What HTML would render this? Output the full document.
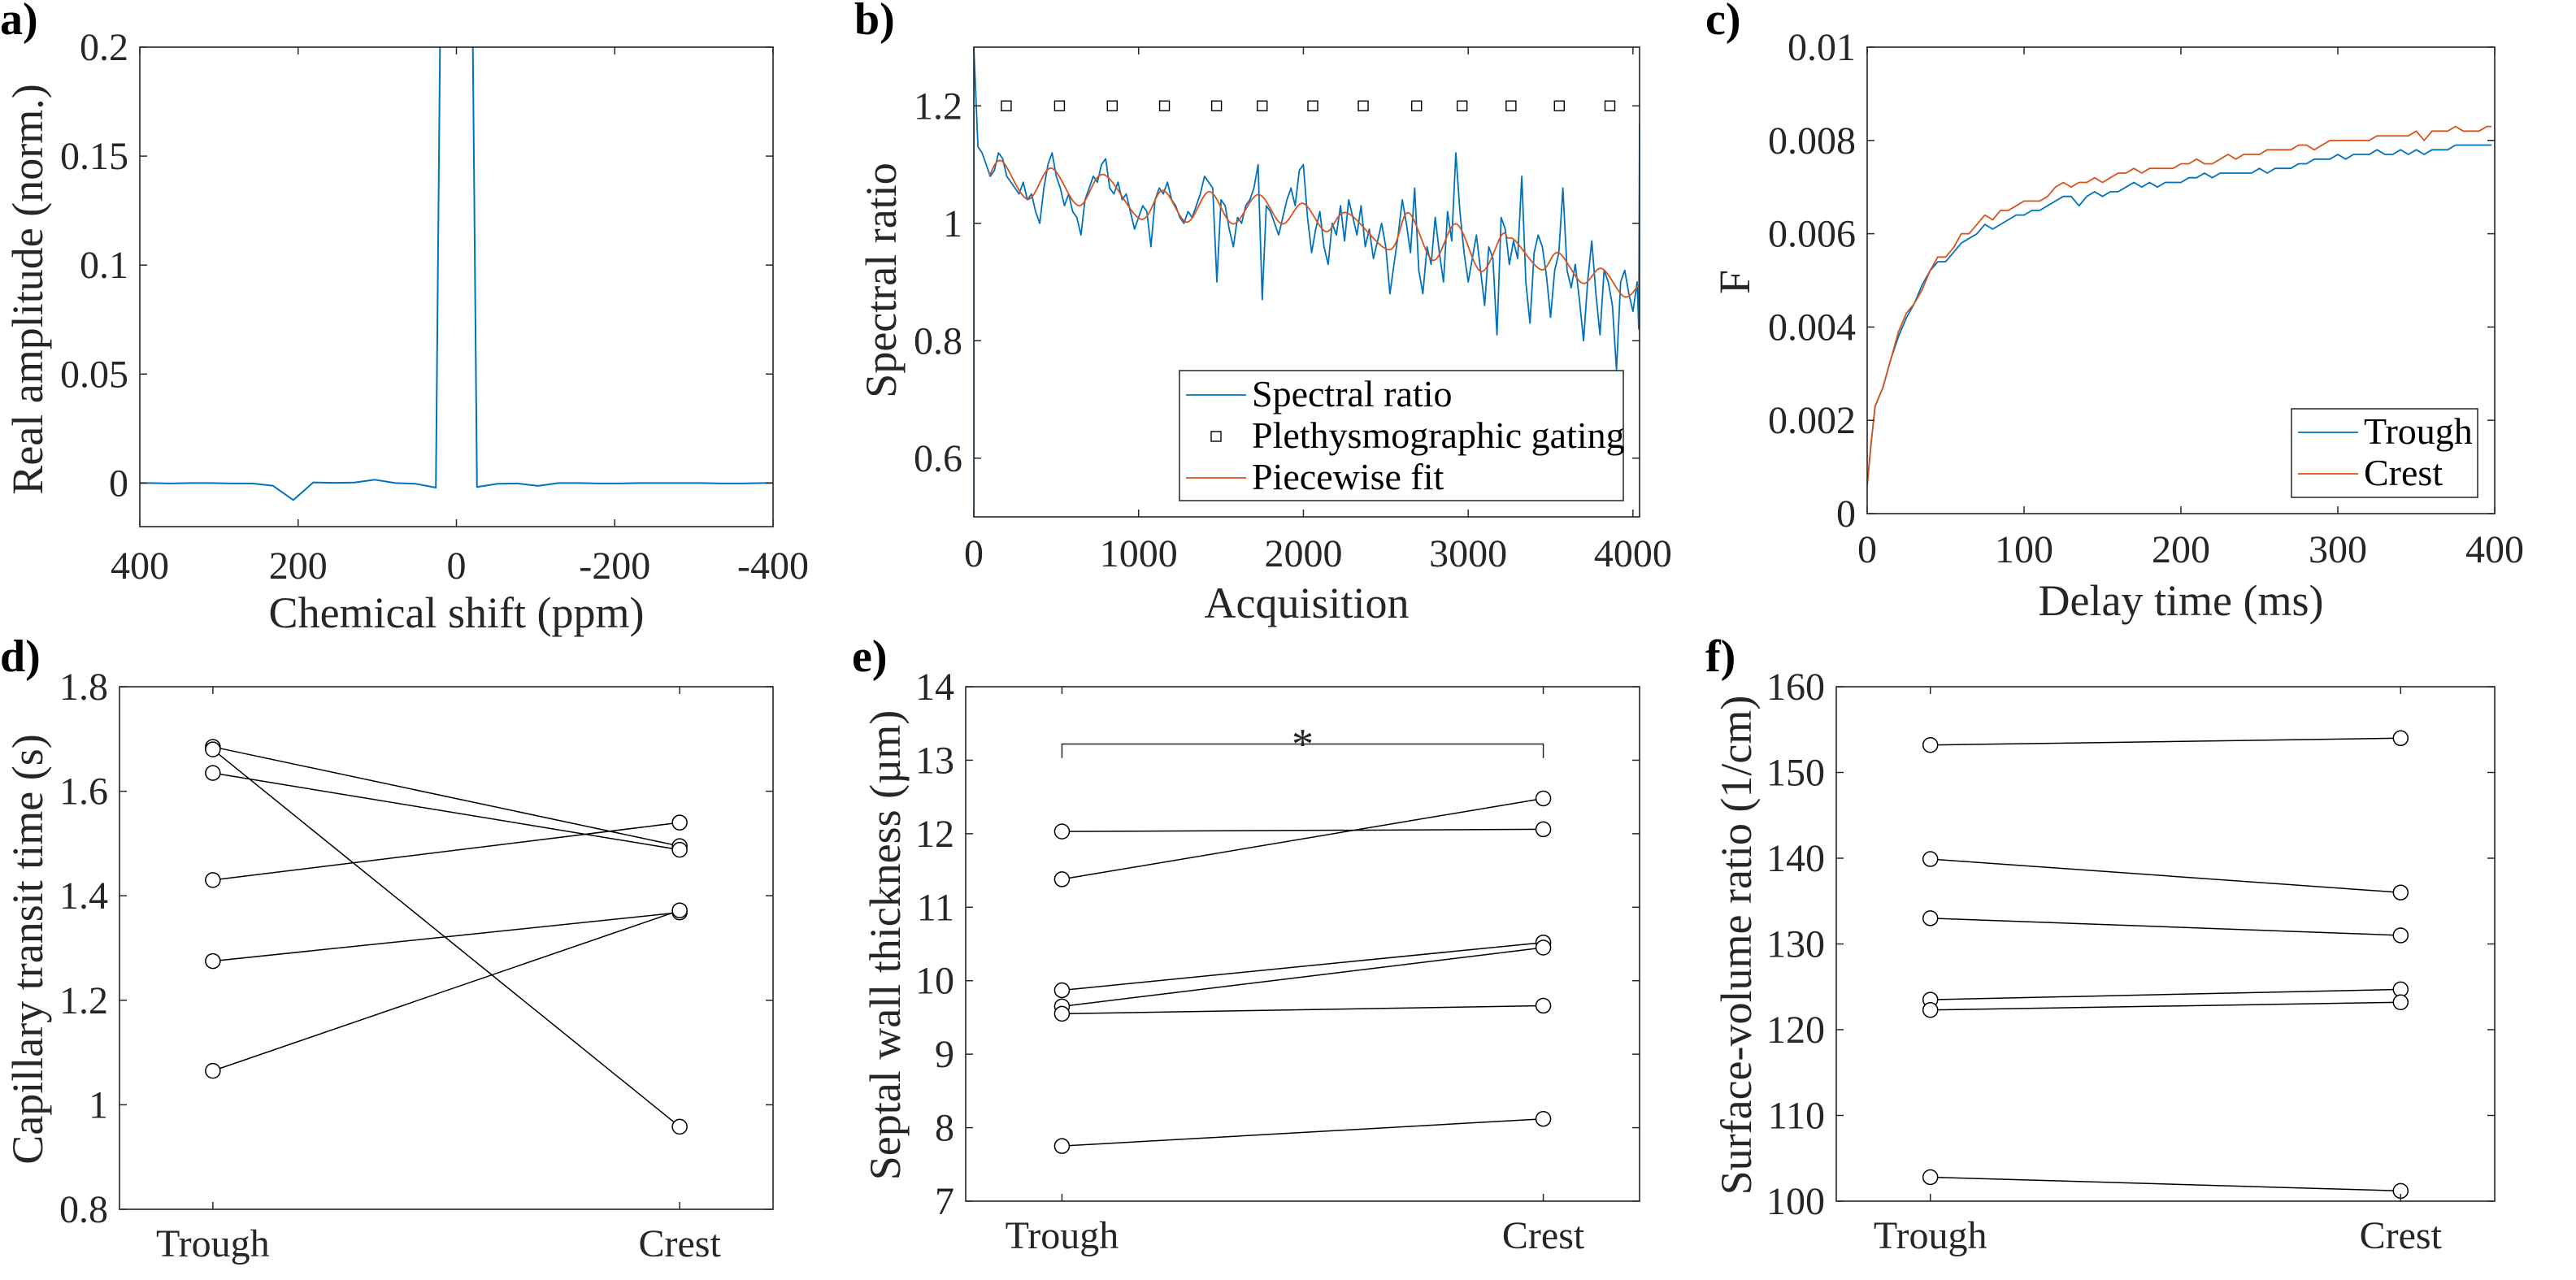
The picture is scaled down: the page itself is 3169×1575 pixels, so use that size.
<!DOCTYPE html>
<html><head><meta charset="utf-8"><style>
html,body{margin:0;padding:0;background:#fff}
svg{display:block}
text{font-family:"Liberation Serif","DejaVu Serif",serif;fill:#262626}
</style></head><body>
<svg id="fig" xmlns="http://www.w3.org/2000/svg" width="3169" height="1575" viewBox="0 0 3169 1575"></svg>
<script>
// ---------- Panel a data ----------
const shiftPpm = [413,387,361,335,310,284,258,232,206,181,155,129,103,77,52,26,0,-26,-52,-77,-103,-129,-155,-181,-206,-232,-258,-284,-310,-335,-361,-387,-413];
const amplitude = [0,0,-0.0002,0,0,-0.0002,-0.0002,-0.0012,-0.0078,0.0003,0.0001,0.0002,0.0015,0,-0.0003,-0.0021,1,-0.0018,-0.0003,-0.0002,-0.0013,0,0,-0.0002,-0.0002,0,0,0,0,-0.0002,-0.0002,0,0.0001];
const aXTicks = [400,200,0,-200,-400];
const aXTickLabels = ["400","200","0","-200","-400"];
const aYTicks = [0,0.05,0.1,0.15,0.2];
const aYTickLabels = ["0","0.05","0.1","0.15","0.2"];
// ---------- Panel b data ----------
const ratioStep = 25;
const ratioHeadAcq = [0];
const ratioHeadVal = [0.5];
const spectralRatio = [1.30,1.13,1.12,1.10,1.08,1.09,1.12,1.11,1.08,1.07,1.06,1.05,1.07,1.04,1.05,1.02,1.00,1.06,1.10,1.12,1.08,1.06,1.03,1.05,1.02,1.01,0.98,1.04,1.06,1.08,1.07,1.10,1.11,1.06,1.05,1.07,1.04,1.05,1.02,0.99,1.01,1.03,1.02,0.96,1.04,1.06,1.05,1.07,1.04,1.03,1.01,1.00,1.02,1.01,1.03,1.05,1.08,1.07,1.06,0.90,1.04,1.03,0.99,0.96,1.01,1.00,1.03,1.04,1.06,1.10,0.87,1.03,1.02,1.00,0.98,1.01,1.04,1.06,1.03,1.09,1.10,1.01,0.95,0.99,1.02,0.96,0.93,1.00,0.98,1.03,0.97,1.04,1.01,0.98,1.03,0.96,0.99,0.94,0.97,1.00,0.96,0.88,0.93,0.98,1.04,1.00,0.95,1.06,0.92,0.88,0.96,0.93,1.01,0.95,0.90,1.02,0.97,1.12,1.02,0.95,0.90,0.94,0.98,0.92,0.86,0.96,0.94,0.81,1.01,0.99,0.93,0.97,0.94,1.08,0.90,0.83,0.95,0.98,0.96,0.91,0.84,0.92,0.95,1.06,0.92,0.89,0.93,0.87,0.80,0.90,0.97,0.88,0.81,0.92,0.90,0.86,0.75,0.90,0.92,0.88,0.85,0.90];
const ratioTailAcq = [4035,4040,4045];
const ratioTailVal = [0.82,1.17,0.72];
const fitAcq = [93,170,327,470,637,787,1013,1147,1293,1430,1573,1727,1870,1997,2137,2263,2520,2637,2787,2927,3077,3203,3240,3287,3443,3547,3693,3810,3947,4040];
const fitVal = [1.08,1.106,1.041,1.094,1.03,1.083,1.007,1.056,1.002,1.054,0.999,1.049,0.999,1.034,0.986,1.018,0.955,1.018,0.937,0.999,0.918,0.98,0.975,0.97,0.921,0.95,0.898,0.923,0.875,0.897];
const gatingAcq = [197,520,840,1157,1473,1750,2057,2363,2687,2963,3260,3553,3860];
const gatingVal = [1.2,1.2,1.2,1.2,1.2,1.2,1.2,1.2,1.2,1.2,1.2,1.2,1.2];
const bXTicks = [0,1000,2000,3000,4000];
const bXTickLabels = ["0","1000","2000","3000","4000"];
const bYTicks = [0.6,0.8,1,1.2];
const bYTickLabels = ["0.6","0.8","1","1.2"];
// ---------- Panel c data ----------
const delayMs = [0,2.5,5,10,15,20,25,30,35,40,45,50,55,60,65,70,75,80,85,90,95,100,105,110,115,120,125,130,135,140,145,150,155,160,165,170,175,180,185,190,195,200,205,210,215,220,225,230,235,240,245,250,255,260,265,270,275,280,285,290,295,300,305,310,315,320,325,330,335,340,345,350,355,360,365,370,375,380,385,390,395,398];
const troughF = [0.0006,0.0015,0.0023,0.0027,0.0033,0.0038,0.0042,0.0045,0.0049,0.0052,0.0054,0.0054,0.0056,0.0058,0.0059,0.0060,0.0062,0.0061,0.0062,0.0063,0.0064,0.0064,0.0065,0.0065,0.0066,0.0067,0.0068,0.0068,0.0066,0.0068,0.0069,0.0068,0.0069,0.0069,0.0070,0.0071,0.0070,0.0071,0.0070,0.0071,0.0071,0.0071,0.0072,0.0072,0.0073,0.0072,0.0073,0.0073,0.0073,0.0073,0.0073,0.0074,0.0073,0.0074,0.0074,0.0074,0.0075,0.0075,0.0076,0.0076,0.0076,0.0077,0.0076,0.0077,0.0077,0.0077,0.0078,0.0077,0.0077,0.0078,0.0077,0.0078,0.0077,0.0078,0.0078,0.0078,0.0079,0.0079,0.0079,0.0079,0.0079,0.0079];
const crestF = [0.0006,0.0015,0.0023,0.0027,0.0033,0.0039,0.0043,0.0045,0.0048,0.0052,0.0055,0.0055,0.0057,0.0060,0.0060,0.0062,0.0064,0.0063,0.0065,0.0065,0.0066,0.0067,0.0067,0.0067,0.0068,0.0070,0.0071,0.0070,0.0071,0.0071,0.0072,0.0071,0.0072,0.0073,0.0073,0.0074,0.0073,0.0074,0.0074,0.0074,0.0074,0.0075,0.0075,0.0076,0.0075,0.0075,0.0076,0.0077,0.0076,0.0077,0.0077,0.0077,0.0078,0.0078,0.0078,0.0078,0.0079,0.0079,0.0078,0.0079,0.0080,0.0080,0.0080,0.0080,0.0080,0.0080,0.0081,0.0081,0.0081,0.0081,0.0081,0.0082,0.0080,0.0082,0.0082,0.0082,0.0083,0.0082,0.0082,0.0082,0.0083,0.0083];
const cXTicks = [0,100,200,300,400];
const cXTickLabels = ["0","100","200","300","400"];
const cYTicks = [0,0.002,0.004,0.006,0.008,0.01];
const cYTickLabels = ["0","0.002","0.004","0.006","0.008","0.01"];
// ---------- Panels d,e,f data ----------
const phases = ["Trough","Crest"];
const transitTrough = [1.685,1.68,1.635,1.43,1.275,1.065];
const transitCrest  = [1.495,0.958,1.488,1.54,1.368,1.372];
const dYTicks = [0.8,1,1.2,1.4,1.6,1.8];
const dYTickLabels = ["0.8","1","1.2","1.4","1.6","1.8"];
const septalTrough = [12.03,11.38,9.87,9.65,9.55,7.75];
const septalCrest  = [12.06,12.48,10.52,10.45,9.66,8.12];
const eYTicks = [7,8,9,10,11,12,13,14];
const eYTickLabels = ["7","8","9","10","11","12","13","14"];
const svrTrough = [153.2,139.9,133.0,123.5,122.3,102.8];
const svrCrest  = [154.0,136.0,131.0,124.7,123.2,101.2];
const fYTicks = [100,110,120,130,140,150,160];
const fYTickLabels = ["100","110","120","130","140","150","160"];

const NS = "http://www.w3.org/2000/svg";
const fig = document.getElementById('fig');
function mk(tag, attrs, parent){
  const e = document.createElementNS(NS, tag);
  for (const k in attrs) e.setAttribute(k, attrs[k]);
  (parent||fig).appendChild(e);
  return e;
}
function scale(d0,d1,r0,r1){ return v => r0 + (v-d0)/(d1-d0)*(r1-r0); }
let clipId = 0;
function axes(name, box, xd, yd, xt, xtl, yt, ytl, xlabBase, xlab, ylabX, ylab){
  const g = mk('g', {});
  
  
  const sx = scale(xd[0], xd[1], box.l, box.r);
  const sy = scale(yd[0], yd[1], box.b, box.t);
  const cid = 'clip' + (clipId++);
  const cp = mk('clipPath', {id: cid}, g);
  mk('rect', {x: box.l, y: box.t, width: box.r-box.l, height: box.b-box.t}, cp);
  const plot = mk('g', {'clip-path': 'url(#' + cid + ')'}, g);
  
  
  const TL = 9;
  xt.forEach((v,i) => {
    const x = sx(v);
    const t1 = mk('line', {x1:x, x2:x, y1:box.b, y2:box.b-TL, stroke:'#262626','stroke-width':1.5}, g);
    
    
    mk('line', {x1:x, x2:x, y1:box.t, y2:box.t+TL, stroke:'#262626','stroke-width':1.5}, g);
    const tx = mk('text', {x:x, y:xlabBase[0], 'text-anchor':'middle', 'font-size':48}, g);
    tx.textContent = xtl[i];
    
    
  });
  yt.forEach((v,i) => {
    const y = sy(v);
    const t1 = mk('line', {x1:box.l, x2:box.l+TL, y1:y, y2:y, stroke:'#262626','stroke-width':1.5}, g);
    
    
    mk('line', {x1:box.r, x2:box.r-TL, y1:y, y2:y, stroke:'#262626','stroke-width':1.5}, g);
    const tx = mk('text', {x:box.l-14, y:y+16, 'text-anchor':'end', 'font-size':48}, g);
    tx.textContent = ytl[i];
    
    
  });
  const fr = mk('rect', {x:box.l, y:box.t, width:box.r-box.l, height:box.b-box.t, fill:'none', stroke:'#262626','stroke-width':1.6}, g);
  
  
  if (xlab){
    const xl = mk('text', {x:(box.l+box.r)/2, y:xlabBase[1], 'text-anchor':'middle', 'font-size':54}, g);
    xl.textContent = xlab;
    
    
  }
  const cy = ylabX[1];
  const yl = mk('text', {x:0, y:0, 'text-anchor':'middle', 'font-size':54, transform:'translate(' + ylabX[0] + ',' + cy + ') rotate(-90)'}, g);
  yl.textContent = ylab;
  
  
  return {sx, sy, plot, g};
}
function polyline(parent, xs, ys, sx, sy, color, w, name){
  const pts = xs.map((x,i) => sx(x).toFixed(1) + ',' + sy(ys[i]).toFixed(1)).join(' ');
  const p = mk('polyline', {points: pts, fill:'none', stroke:color, 'stroke-width':w, 'stroke-linejoin':'round'}, parent);
  
  
  return p;
}
function panelLabel(txt, x, y){
  const t = mk('text', {x:x, y:y, 'font-size':56, 'font-weight':'bold'});
  t.textContent = txt;
  
  
  t.style.fill = '#000';
}
const BLUE = '#0072BD', ORANGE = '#D95319';

// ---- Panel a ----
panelLabel('a)', 0, 42);
const A = axes('panel-a-spectrum', {l:172, r:951, t:58, b:648}, [400,-400], [-0.02,0.2], aXTicks, aXTickLabels, aYTicks, aYTickLabels, [712, 772], 'Chemical shift (ppm)', [52, 356], 'Real amplitude (norm.)');
polyline(A.plot, shiftPpm, amplitude, A.sx, A.sy, BLUE, 2, 'spectrum-line');

// ---- Panel b ----
panelLabel('b)', 1051, 42);
const B = axes('panel-b-spectral-ratio', {l:1198, r:2017, t:58, b:636}, [0,4040], [0.5,1.3], bXTicks, bXTickLabels, bYTicks, bYTickLabels, [697, 760], 'Acquisition', [1102, 345], 'Spectral ratio');
const rAcq = ratioHeadAcq.slice(), rVal = ratioHeadVal.slice();
spectralRatio.forEach((v,i) => { rAcq.push(i*ratioStep); rVal.push(v); });
ratioTailAcq.forEach((a,i) => { rAcq.push(a); rVal.push(ratioTailVal[i]); });
polyline(B.plot, rAcq, rVal, B.sx, B.sy, BLUE, 1.8, 'spectral-ratio-line');
// smooth fit via Catmull-Rom
(function(){
  const P = fitAcq.map((a,i) => [B.sx(a), B.sy(fitVal[i])]);
  let d = 'M' + P[0][0] + ',' + P[0][1];
  for (let i=0;i<P.length-1;i++){
    const p0 = P[Math.max(0,i-1)], p1 = P[i], p2 = P[i+1], p3 = P[Math.min(P.length-1,i+2)];
    const c1 = [p1[0]+(p2[0]-p0[0])/6, p1[1]+(p2[1]-p0[1])/6];
    const c2 = [p2[0]-(p3[0]-p1[0])/6, p2[1]-(p3[1]-p1[1])/6];
    d += ' C' + c1.join(',') + ' ' + c2.join(',') + ' ' + p2.join(',');
  }
  const p = mk('path', {d:d, fill:'none', stroke:ORANGE, 'stroke-width':1.8}, B.plot);
  
  
})();
gatingAcq.forEach((a,i) => {
  const r = mk('rect', {x:B.sx(a)-6, y:B.sy(gatingVal[i])-6, width:12, height:12, fill:'none', stroke:'#000', 'stroke-width':1.4}, B.plot);
  
  
});
(function(){
  const lg = mk('g', {});
  
  
  mk('rect', {x:1451, y:456, width:546, height:160, fill:'#fff', stroke:'#262626', 'stroke-width':1.5}, lg);
  const items = [['Spectral ratio','line',BLUE,500],['Plethysmographic gating','sq','#000',551],['Piecewise fit','line',ORANGE,602]];
  items.forEach(it => {
    const e = mk('g', {}, lg);
    
    
    const y = it[3] - 14;
    if (it[1]==='line') mk('line', {x1:1459, x2:1533, y1:y, y2:y, stroke:it[2], 'stroke-width':1.8}, e);
    else mk('rect', {x:1490, y:y-6, width:12, height:12, fill:'none', stroke:'#000', 'stroke-width':1.4}, e);
    const t = mk('text', {x:1540, y:it[3], 'font-size':46}, e);
    t.textContent = it[0];
    t.style.fill = '#000';
  });
})();

// ---- Panel c ----
panelLabel('c)', 2098, 42);
const C = axes('panel-c-delay', {l:2297, r:3069, t:58, b:632}, [0,400], [0,0.01], cXTicks, cXTickLabels, cYTicks, cYTickLabels, [692, 757], 'Delay time (ms)', [2152, 347], 'F');
polyline(C.plot, delayMs, troughF, C.sx, C.sy, BLUE, 1.8, 'trough-line');
polyline(C.plot, delayMs, crestF, C.sx, C.sy, ORANGE, 1.8, 'crest-line');
(function(){
  const lg = mk('g', {});
  
  
  mk('rect', {x:2819, y:503, width:229, height:109, fill:'#fff', stroke:'#262626', 'stroke-width':1.5}, lg);
  [['Trough',BLUE,546],['Crest',ORANGE,597]].forEach(it => {
    const e = mk('g', {}, lg);
    
    
    mk('line', {x1:2827, x2:2901, y1:it[2]-14, y2:it[2]-14, stroke:it[1], 'stroke-width':1.8}, e);
    const t = mk('text', {x:2908, y:it[2], 'font-size':46}, e);
    t.textContent = it[0];
    t.style.fill = '#000';
  });
})();

// ---- paired panels ----
function paired(name, box, yd, yt, ytl, tr, cr, ylabX, ylab){
  const P = axes(name, box, [0.8,2.2], yd, [1,2], phases, yt, ytl, [box.b+58, 0], null, ylabX, ylab);
  tr.forEach((v,i) => {
    const ln = mk('line', {x1:P.sx(1), y1:P.sy(v), x2:P.sx(2), y2:P.sy(cr[i]), stroke:'#000', 'stroke-width':1.5}, P.plot);
    
    
  });
  tr.forEach((v,i) => {
    [[1,v],[2,cr[i]]].forEach(pt => {
      const c = mk('circle', {cx:P.sx(pt[0]), cy:P.sy(pt[1]), r:9, fill:'#fff', stroke:'#000', 'stroke-width':1.5}, P.plot);
      
      
    });
  });
  return P;
}
panelLabel('d)', 0, 826);
paired('panel-d-transit-time', {l:147, r:951, t:845, b:1488}, [0.8,1.8], dYTicks, dYTickLabels, transitTrough, transitCrest, [52, 1168], 'Capillary transit time (s)');
panelLabel('e)', 1048, 826);
const E = paired('panel-e-septal-wall', {l:1188, r:2017, t:845, b:1478}, [7,14], eYTicks, eYTickLabels, septalTrough, septalCrest, [1107, 1163], 'Septal wall thickness (\u00b5m)');
(function(){
  const yb = E.sy(13.22), yt = E.sy(13.03);
  const p = mk('polyline', {points: E.sx(1)+','+yt+' '+E.sx(1)+','+yb+' '+E.sx(2)+','+yb+' '+E.sx(2)+','+yt, fill:'none', stroke:'#262626', 'stroke-width':1.5}, E.g);
  
  
  const s = mk('text', {x:(E.sx(1)+E.sx(2))/2, y:yb+18, 'text-anchor':'middle', 'font-size':54}, E.g);
  s.textContent = '*';
  
  
})();
panelLabel('f)', 2098, 826);
paired('panel-f-surface-volume', {l:2259, r:3069, t:845, b:1478}, [100,160], fYTicks, fYTickLabels, svrTrough, svrCrest, [2154, 1163], 'Surface-volume ratio (1/cm)');
</script>
</body></html>
